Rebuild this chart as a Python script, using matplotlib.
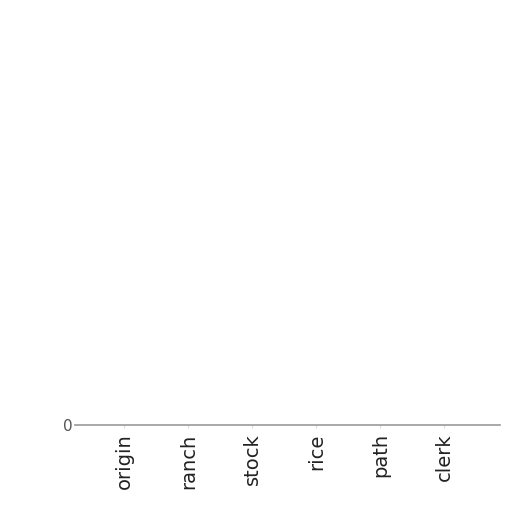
import matplotlib
matplotlib.use("Agg")
import matplotlib.pyplot as plt

# categories and their (all zero) values
categories = ["origin", "ranch", "stock", "rice", "path", "clerk"]
values = [0, 0, 0, 0, 0, 0]

fig = plt.figure(figsize=(5.12, 5.12), dpi=100)
ax = fig.add_axes([75 / 512, 1 - 425 / 512, 425 / 512, 410 / 512])

x = list(range(len(categories)))
ax.bar(x, values, width=0.6, color="#4c72b0")

ax.set_xlim(-0.77, 5.87)
ax.set_ylim(0, 1)
ax.set_yticks([0])
ax.set_yticklabels(["0"], color="#555555", fontsize=11)
ax.set_xticks(x)
ax.set_xticklabels(categories, rotation=90, fontsize=14, color="#222222")

for side in ["left", "top", "right"]:
    ax.spines[side].set_visible(False)
ax.spines["bottom"].set_color("#999999")
ax.spines["bottom"].set_linewidth(1.2)
ax.tick_params(axis="x", length=2, color="#dddddd", pad=4)
ax.tick_params(axis="y", length=0, pad=2)

fig.savefig("out.png", dpi=100)
